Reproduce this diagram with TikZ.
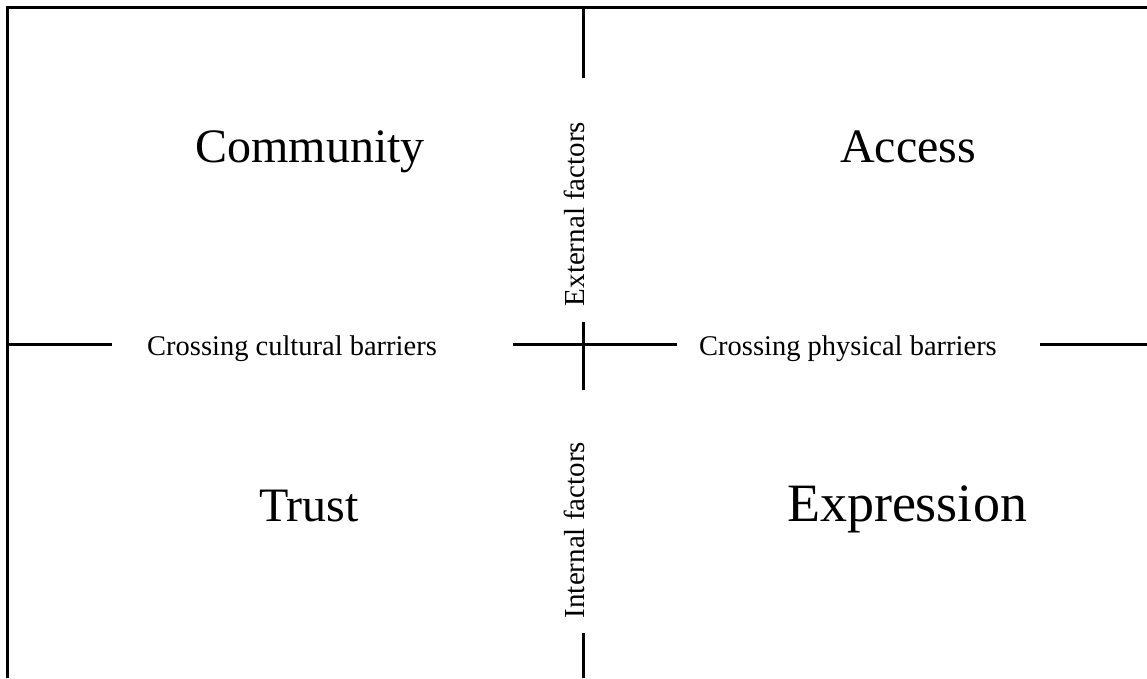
\documentclass[tikz,border=0pt]{standalone}
\usepackage{fontspec}
\setmainfont{Liberation Serif}
\usetikzlibrary{positioning}

\begin{document}
\begin{tikzpicture}[
  x=1pt, y=1pt,
  quad/.style={font=\fontsize{48}{50}\selectfont, anchor=base, inner sep=0pt},
  axislbl/.style={font=\fontsize{29}{31}\selectfont, anchor=base, inner sep=0pt},
  rule/.style={line width=3pt, line cap=butt},
]
\useasboundingbox (0,0) rectangle (1147,678);

% outer frame: top and left only
\coordinate (tl) at (7,670);
\coordinate (tr) at (1147,670);
\coordinate (bl) at (7,0);
\draw[rule] (bl) -- (tl) -- (tr);

% quadrant titles
\node[quad] (comm)  at (310,515) {Community};
\node[quad] (acc)   at (908,515) {Access};
\node[quad] (trust) at (309,157) {Trust};
\node[quad, font=\fontsize{54}{56}\selectfont] (expr) at (907,157) {Expression};

% axis labels
\node[axislbl, font=\fontsize{28.5}{30}\selectfont] (cult) at (292,323) {Crossing cultural barriers};
\node[axislbl, font=\fontsize{28.5}{30}\selectfont] (phys) at (848,323) {Crossing physical barriers};
\node[axislbl, rotate=90] (ext) at (584,464) {External factors};
\node[axislbl, rotate=90] (int) at (584,148) {Internal factors};

% horizontal axis, broken around its labels
\coordinate (h0) at (7,334);
\coordinate (h1) at (112,334);
\coordinate (h2) at (513,334);
\coordinate (h3) at (677,334);
\coordinate (h4) at (1040,334);
\coordinate (h5) at (1147,334);
\draw[rule] (h0) -- (h1);
\draw[rule] (h2) -- (h3);
\draw[rule] (h4) -- (h5);

% vertical axis, broken around its labels
\coordinate (v0) at (583,670);
\coordinate (v1) at (583,600);
\coordinate (v2) at (583,356);
\coordinate (v3) at (583,288);
\coordinate (v4) at (583,45);
\coordinate (v5) at (583,0);
\draw[rule] (v0) -- (v1);
\draw[rule] (v2) -- (v3);
\draw[rule] (v4) -- (v5);
\end{tikzpicture}
\end{document}
